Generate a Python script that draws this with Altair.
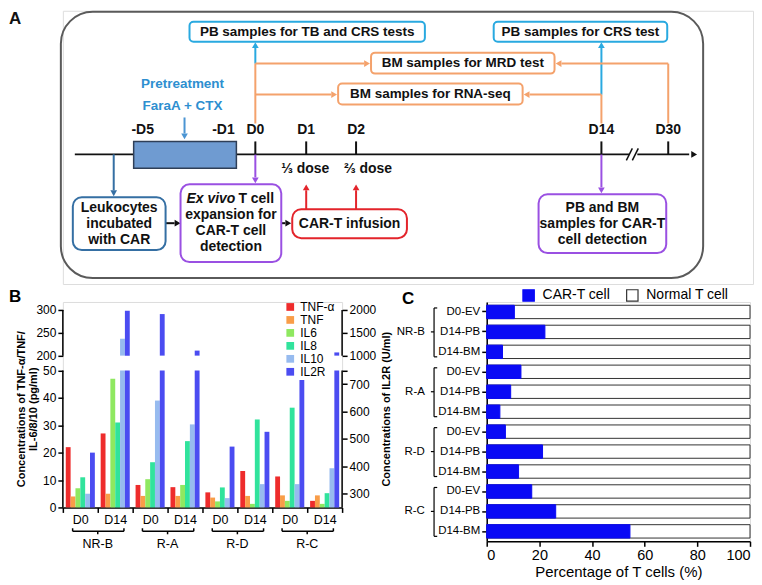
import altair as alt
import pandas as pd

FONT = "Liberation Sans, Arial, Helvetica, sans-serif"

# ======================= DATA =======================
# ---- Panel B: cytokine concentrations (pg/ml; IL2R in U/ml) ----
b_groups = ["NR-B", "R-A", "R-D", "R-C"]
b_days = ["D0", "D14"]
b_series = ["TNF-α", "TNF", "IL6", "IL8", "IL10", "IL2R"]
b_tnfa = [22, 27, 8.2, 7.4, 5.5, 13.3, 11.3, 2.4]
b_tnf = [4, 5, 4.2, 4.2, 3.6, 4.2, 4.4, 4.4]
b_il6 = [7, 47, 10.3, 8.2, 2.2, 1.3, 2.4, 1.3]
b_il8 = [11, 31, 16.5, 24.2, 7.3, 32.1, 36.4, 5.2]
b_il10 = [5, 237, 39, 30.3, 3.4, 8.5, 8.5, 14.3]
b_il2r = [450, 1980, 1910, 1110, 472, 526, 715, 1070]
b_left_ticks = [0, 10, 20, 30, 40, 50, 200, 250, 300]
b_right_ticks = [300, 400, 500, 600, 700, 750, 1000, 1500, 2000]
b_colors = ["#ee2c2c", "#f99d48", "#8fe860", "#31e39c", "#97bbef", "#4b4cf1"]

# ---- Panel C: percentage of CAR-T cells among T cells ----
c_patients = ["NR-B", "R-A", "R-D", "R-C"]
c_samples = ["D0-EV", "D14-PB", "D14-BM"]
c_cart = [10.5, 22.1, 6.0, 13.0, 9.1, 5.0, 7.1, 21.2, 12.1, 17.1, 26.2, 54.4]
c_types = ["CAR-T cell", "Normal T cell"]
c_ticks = [0, 20, 40, 60, 80, 100]

# ---- Panel A: schematic texts ----
a_top_box_texts = ["PB samples for TB and CRS tests", "PB samples for CRS test",
                   "BM samples for MRD test", "BM samples for RNA-seq"]
a_bottom_box_lines = [["Leukocytes", "incubated", "with CAR"],
                      ["", "expansion for", "CAR-T cell", "detection"],
                      ["CAR-T infusion"],
                      ["PB and BM", "samples for CAR-T", "cell detection"]]
a_day_labels = ["-D5", "-D1", "D0", "D1", "D2", "D14", "D30"]
a_pretreat = ["Pretreatment", "FaraA + CTX"]
a_doses = ["⅓ dose", "⅔ dose"]

# ======================= STYLE / LAYOUT =======================
CYAN, ORANGE, PURPLE, RED = "#29a9e0", "#f4a26c", "#9a50e2", "#e3242b"
DBLUE, PRE_TXT, PRE_ARROW, BLACK = "#356fa3", "#2e8fd0", "#4b95d3", "#111111"

# diagram layout (panel A coordinate units)
A_DAY_X = [142, 223, 255, 306, 356, 602, 669]
A_TOP_BOXES = [(189, 425, 19, 39, CYAN), (494, 668, 19, 39, CYAN),
               (371, 555, 50, 71, ORANGE), (338, 523, 81, 102, ORANGE)]
A_BOTTOM_BOXES = [(72, 165, 195, 248, DBLUE), (180, 281, 182, 260, PURPLE),
                  (292, 407, 207, 236, RED), (539, 667, 192, 251, PURPLE)]
A_LINES = [
    (74, 152, 690, 152, BLACK, 2), (184, 115, 184, 131, PRE_ARROW, 2),
    (113, 152, 113, 188, DBLUE, 2), (255, 121, 255, 61, ORANGE, 2),
    (255, 61, 255, 45, CYAN, 2), (255, 61, 364, 61, ORANGE, 2),
    (255, 92, 331, 92, ORANGE, 2), (602, 121, 602, 92, ORANGE, 2),
    (602, 92, 602, 45, CYAN, 2), (602, 92, 530, 92, ORANGE, 2),
    (669, 121, 669, 61, ORANGE, 2), (669, 61, 562, 61, ORANGE, 2),
    (255, 152, 255, 175, PURPLE, 2), (602, 152, 602, 185, PURPLE, 2),
    (306, 207, 306, 188, RED, 2), (356, 207, 356, 188, RED, 2),
    (165, 221, 174, 221, BLACK, 2), (281, 221, 285, 221, BLACK, 2),
    (255, 139, 255, 152, BLACK, 2), (306, 139, 306, 152, BLACK, 2),
    (356, 139, 356, 152, BLACK, 2), (602, 139, 602, 152, BLACK, 2),
    (669, 139, 669, 152, BLACK, 2),
    (630, 152, 638, 152, "#ffffff", 5),
    (627, 158, 633, 146, BLACK, 1.5), (633, 158, 639, 146, BLACK, 1.5),
]
A_HEADS = [
    (695, 152, "triangle-right", BLACK), (184, 134, "triangle-down", PRE_ARROW),
    (113, 191, "triangle-down", DBLUE), (255, 42.5, "triangle-up", CYAN),
    (367, 61, "triangle-right", ORANGE), (334, 92, "triangle-right", ORANGE),
    (602, 42.5, "triangle-up", CYAN), (527, 92, "triangle-left", ORANGE),
    (559, 61, "triangle-left", ORANGE), (255, 178, "triangle-down", PURPLE),
    (602, 188, "triangle-down", PURPLE), (306, 185, "triangle-up", RED),
    (356, 185, "triangle-up", RED), (177, 221, "triangle-right", BLACK),
    (288, 221, "triangle-right", BLACK),
]

# page geometry of the panels' plot areas
B_LEFT, B_W, B_AXIS_H = 62, 280, 198
ROW2_TOP = 303          # shared top of the plot areas of panels B and C
B_AXIS_TOP = 311        # where the 300 tick of panel B sits
A_X0, A_X1, A_Y0, A_Y1 = B_LEFT, 754, 8, 282

# ======================= PANEL A =======================
AX = alt.X("x:Q", scale=alt.Scale(domain=[A_X0, A_X1], nice=False, zero=False), axis=None)
AY = alt.Y("y:Q", scale=alt.Scale(domain=[A_Y0, A_Y1], nice=False, zero=False, reverse=True), axis=None)


def rects(df, **kw):
    return alt.Chart(df).mark_rect(**kw).encode(x=AX, x2="x2:Q", y=AY, y2="y2:Q")


frame = rects(pd.DataFrame([{"x": 60, "x2": 704, "y": 9, "y2": 276}]),
              fillOpacity=0, stroke="#5a5a5a", strokeWidth=2, cornerRadius=32)
pre_rect = rects(pd.DataFrame([{"x": 133, "x2": 236, "y": 139, "y2": 166}]),
                 fill="#6f9bd1", stroke="#2f3f57", strokeWidth=1.5)
lines_df = pd.DataFrame(A_LINES, columns=["x", "y", "x2", "y2", "c", "w"])
a_lines = alt.Chart(lines_df).mark_rule().encode(
    x=AX, y=AY, x2="x2:Q", y2="y2:Q",
    color=alt.Color("c:N", scale=None), strokeWidth=alt.StrokeWidth("w:Q", scale=None))
heads_df = pd.DataFrame(A_HEADS, columns=["x", "y", "s", "c"])
a_heads = alt.Chart(heads_df).mark_point(filled=True, size=45, opacity=1).encode(
    x=AX, y=AY, shape=alt.Shape("s:N", scale=None), color=alt.Color("c:N", scale=None))

tb_df = pd.DataFrame([{"x": b[0], "x2": b[1], "y": b[2], "y2": b[3], "c": b[4]} for b in A_TOP_BOXES])
top_boxes = alt.Chart(tb_df).mark_rect(fill="white", strokeWidth=2, cornerRadius=4).encode(
    x=AX, x2="x2:Q", y=AY, y2="y2:Q", stroke=alt.Stroke("c:N", scale=None))
bb_df = pd.DataFrame([{"x": b[0], "x2": b[1], "y": b[2], "y2": b[3], "c": b[4]} for b in A_BOTTOM_BOXES])
bottom_boxes = alt.Chart(bb_df).mark_rect(fill="white", strokeWidth=2, cornerRadius=9).encode(
    x=AX, x2="x2:Q", y=AY, y2="y2:Q", stroke=alt.Stroke("c:N", scale=None))

txt = []
for t, b in zip(a_top_box_texts, A_TOP_BOXES):
    txt.append({"x": (b[0] + b[1]) / 2, "y": (b[2] + b[3]) / 2, "t": t, "c": BLACK, "fs": 13.5})
LH = 16
for lines, b in zip(a_bottom_box_lines, A_BOTTOM_BOXES):
    n = len(lines)
    cyy = (b[2] + b[3]) / 2
    for i, ln in enumerate(lines):
        if ln:
            txt.append({"x": (b[0] + b[1]) / 2, "y": cyy + (i - (n - 1) / 2) * LH, "t": ln, "c": BLACK, "fs": 14})
for lab, x in zip(a_day_labels, A_DAY_X):
    txt.append({"x": x, "y": 128, "t": lab, "c": BLACK, "fs": 14})
for lab, y in zip(a_pretreat, [81, 104]):
    txt.append({"x": 182, "y": y, "t": lab, "c": PRE_TXT, "fs": 13.5})
for lab, x in zip(a_doses, [305, 368]):
    txt.append({"x": x, "y": 167, "t": lab, "c": BLACK, "fs": 14})
txt_df = pd.DataFrame(txt)
a_texts = alt.Chart(txt_df).mark_text(fontWeight="bold", baseline="middle", align="center").encode(
    x=AX, y=AY, text="t:N", color=alt.Color("c:N", scale=None), size=alt.Size("fs:Q", scale=None))

exvivo_y = (A_BOTTOM_BOXES[1][2] + A_BOTTOM_BOXES[1][3]) / 2 - 1.5 * LH
a_exvivo = alt.Chart(pd.DataFrame([{"x": 235, "y": exvivo_y, "t": "Ex vivo"}])).mark_text(
    fontWeight="bold", fontStyle="italic", fontSize=14, align="right", baseline="middle", color=BLACK
).encode(x=AX, y=AY, text="t:N")
a_tcell = alt.Chart(pd.DataFrame([{"x": 238, "y": exvivo_y, "t": "T cell"}])).mark_text(
    fontWeight="bold", fontSize=14, align="left", baseline="middle", color=BLACK
).encode(x=AX, y=AY, text="t:N")
a_letter = alt.Chart(pd.DataFrame([{"x": 8, "y": 8, "t": "A"}])).mark_text(
    fontWeight="bold", fontSize=17, align="left", baseline="top", color=BLACK
).encode(x=AX, y=AY, text="t:N")

panel_a = alt.layer(frame, a_lines, pre_rect, a_heads, top_boxes, bottom_boxes,
                    a_texts, a_exvivo, a_tcell, a_letter).properties(width=A_X1 - A_X0, height=A_Y1 - A_Y0)

# ======================= PANEL B =======================
LO_MAX, UP_MIN, GAP, UP_RATIO = 50.0, 200.0, 5.4, 6.0
D_GAP = LO_MAX + GAP
R_BASE, R_PER, R_UP_MIN, R_UP_PER = 250.0, 10.0, 1000.0, 60.0


def disp_left(v):
    return v if v <= LO_MAX else D_GAP + (v - UP_MIN) / UP_RATIO


def disp_right(r):
    return (r - R_BASE) / R_PER if r <= R_BASE + LO_MAX * R_PER else D_GAP + (r - R_UP_MIN) / R_UP_PER


TOP = disp_left(300)
PX_PER_UNIT = B_AXIS_H / TOP
B_H = B_AXIS_H + (B_AXIS_TOP - ROW2_TOP)
B_DOM_TOP = B_H / PX_PER_UNIT
B_OFF = B_AXIS_TOP - ROW2_TOP      # axis top below plot-area top

b_vals = dict(zip(b_series, [b_tnfa, b_tnf, b_il6, b_il8, b_il10, b_il2r]))
b_cells = [f"{g}|{d}" for g in b_groups for d in b_days]
b_rows = []
for i, cell in enumerate(b_cells):
    for s in b_series:
        b_rows.append({"cell": cell, "series": s, "value": b_vals[s][i]})
b_df = pd.DataFrame(b_rows)

disp_expr = (f"datum.series === 'IL2R' ? (datum.value <= {R_BASE + LO_MAX * R_PER} ? "
             f"(datum.value - {R_BASE}) / {R_PER} : {D_GAP} + (datum.value - {R_UP_MIN}) / {R_UP_PER}) : "
             f"(datum.value <= {LO_MAX} ? datum.value : {D_GAP} + (datum.value - {UP_MIN}) / {UP_RATIO})")
left_label_expr = (f"datum.value <= {LO_MAX + 0.01} ? format(datum.value, '.0f') : "
                   f"format({UP_MIN} + (datum.value - {D_GAP}) * {UP_RATIO}, '.0f')")
right_label_expr = (f"abs(datum.value - {LO_MAX}) < 0.01 ? '' : datum.value < {LO_MAX} ? "
                    f"format(datum.value * {R_PER} + {R_BASE}, '.0f') : "
                    f"format({R_UP_MIN} + (datum.value - {D_GAP}) * {R_UP_PER}, '.0f')")

bx = alt.X("cell:N", sort=b_cells, scale=alt.Scale(domain=b_cells, paddingInner=0, paddingOuter=0),
           axis=alt.Axis(title=None, labelExpr="split(datum.value, '|')[1]", labelAngle=0,
                         tickBand="extent", tickSize=5, tickWidth=1.5, domainWidth=1.5,
                         labelFontSize=12.5, labelPadding=1, domainColor="#000",
                         tickColor="#000", labelColor="#000"))
bxo = alt.XOffset("series:N", sort=b_series,
                  scale=alt.Scale(domain=b_series, paddingOuter=0.6, paddingInner=0))
by = alt.Y("top:Q", scale=alt.Scale(domain=[0, B_DOM_TOP], nice=False, zero=False),
           axis=alt.Axis(values=[disp_left(v) for v in b_left_ticks], labelExpr=left_label_expr,
                         domain=False, grid=False, tickSize=5, tickWidth=1.5, tickColor="#000",
                         labelFontSize=12, labelPadding=2, labelColor="#000",
                         title=["Concentrations of TNF-α/TNF/", "IL-6/8/10 (pg/ml)"],
                         titleFontSize=11, titleFontWeight="bold", titleColor="#000",
                         titleAngle=-90, titleX=-41, titleY=B_OFF + B_AXIS_H / 2, titleAlign="center",
                         titleBaseline="middle", titleLineHeight=12))
bcolor = alt.Color("series:N", sort=b_series, scale=alt.Scale(domain=b_series, range=b_colors),
                   legend=alt.Legend(title=None, orient="none", legendX=222, legendY=-1,
                                     direction="vertical", symbolType="square", symbolSize=60,
                                     symbolStrokeWidth=0, labelFontSize=12, labelOffset=4,
                                     rowPadding=1, padding=0, labelColor="#000"))

b_base = alt.Chart(b_df).transform_calculate(disp=disp_expr)
b_lower = b_base.transform_calculate(top=f"min(datum.disp, {LO_MAX})", bot="0").mark_bar().encode(
    x=bx, xOffset=bxo, y=by, y2="bot:Q", color=bcolor)
b_upper = b_base.transform_filter(f"datum.disp > {D_GAP}").transform_calculate(
    top="datum.disp", bot=str(D_GAP)).mark_bar().encode(
    x=bx, xOffset=bxo, y=by, y2="bot:Q", color=bcolor)

n_cells = len(b_cells)
dx = alt.X("x:Q", scale=alt.Scale(domain=[0, n_cells], nice=False, zero=False), axis=None)
dy = alt.Y("y:Q", scale=alt.Scale(domain=[0, B_DOM_TOP], nice=False, zero=False),
           axis=alt.Axis(orient="right", values=[disp_right(r) for r in b_right_ticks],
                         labelExpr=right_label_expr, domain=False, grid=False, tickSize=5,
                         tickWidth=1.5, tickColor="#000", labelFontSize=12, labelPadding=2,
                         labelColor="#000", title="Concentrations of IL2R (U/ml)", titleFontSize=11,
                         titleFontWeight="bold", titleColor="#000", titleAngle=-90, titleX=45,
                         titleY=B_OFF + B_AXIS_H / 2, titleAlign="center", titleBaseline="middle"))

BR_Y, BR_L, BR_R, HOOK, GL_Y = -8.7, 0.28, 1.75, 1.1, -13.2
seg = [(0, 0, 0, LO_MAX), (0, 0, D_GAP, TOP), (n_cells, n_cells, 0, LO_MAX), (n_cells, n_cells, D_GAP, TOP)]
glab = []
for k, g in enumerate(b_groups):
    c0 = 2 * k
    seg += [(c0 + BR_L, c0 + BR_R, BR_Y, BR_Y), (c0 + BR_L, c0 + BR_L, BR_Y, BR_Y + HOOK),
            (c0 + BR_R, c0 + BR_R, BR_Y, BR_Y + HOOK), (c0 + 1, c0 + 1, BR_Y, BR_Y - HOOK)]
    glab.append({"x": c0 + 1, "y": GL_Y, "t": g})
seg_df = pd.DataFrame(seg, columns=["x", "x2", "y", "y2"])
b_rules = alt.Chart(seg_df).mark_rule(color="#000", strokeWidth=1.5).encode(
    x=dx, x2="x2:Q", y=dy, y2="y2:Q")
b_glabels = alt.Chart(pd.DataFrame(glab)).mark_text(fontSize=12.5, baseline="middle", color="#000").encode(
    x=dx, y=dy, text="t:N")
b_letter = alt.Chart(pd.DataFrame({"t": ["B"]})).mark_text(
    fontSize=17, fontWeight="bold", align="left", baseline="top", color="#000").encode(
    x=alt.value(-54), y=alt.value(-13), text="t:N")

panel_b = alt.layer(alt.layer(b_lower, b_upper), alt.layer(b_rules, b_glabels, b_letter)).resolve_scale(
    x="independent", y="independent").properties(width=B_W, height=B_H)

# ======================= PANEL C =======================
C_W, C_H = 264, 240
c_rows = [f"{p}|{s}" for p in c_patients for s in c_samples]
c_rec = []
for i, r in enumerate(c_rows):
    c_rec.append({"row": r, "type": c_types[1], "start": 0, "end": 100})
for i, r in enumerate(c_rows):
    c_rec.append({"row": r, "type": c_types[0], "start": 0, "end": c_cart[i]})
c_df = pd.DataFrame(c_rec)

cx = alt.X("start:Q", scale=alt.Scale(domain=[0, 100], nice=False, zero=False),
           axis=alt.Axis(values=c_ticks, format=".0f", title="Percentage of T cells (%)", grid=False,
                         tickSize=5, tickWidth=1.5, domainWidth=1.5, labelFontSize=14.5, labelPadding=2,
                         titleFontSize=15, titleFontWeight="normal", titlePadding=3,
                         domainColor="#000", tickColor="#000", labelColor="#000", titleColor="#000"))
cy = alt.Y("row:N", sort=c_rows, scale=alt.Scale(domain=c_rows, paddingInner=0.33, paddingOuter=0.165),
           axis=alt.Axis(title=None, labelExpr="split(datum.value, '|')[1]", tickSize=5, tickWidth=1.5,
                         domainWidth=1.5, labelFontSize=11.5, labelPadding=2, domainColor="#000",
                         tickColor="#000", labelColor="#000"))
c_leg = alt.Legend(title=None, orient="none", legendX=35, legendY=-14, direction="horizontal",
                   symbolType="square", symbolSize=130, symbolStrokeWidth=1.2, labelFontSize=14,
                   labelOffset=7, columnPadding=13, padding=0, labelColor="#000")
c_bars = alt.Chart(c_df).mark_bar(strokeWidth=1).encode(
    x=cx, x2="end:Q", y=cy,
    color=alt.Color("type:N", scale=alt.Scale(domain=c_types, range=["#0a0af5", "#ffffff"]), legend=c_leg),
    stroke=alt.Stroke("type:N", scale=alt.Scale(domain=c_types, range=["#0a0af5", "#333333"]), legend=c_leg))

cdy = alt.Y("yy:Q", scale=alt.Scale(domain=[0, len(c_rows)], nice=False, zero=False, reverse=True), axis=None)
CB_X, CB_HOOK, CB_TOP, CB_BOT, CL_X = -20.0, 1.2, 0.3, 2.75, -23.5
cseg, clab = [], []
for k, p in enumerate(c_patients):
    r0 = 3 * k
    cseg += [(CB_X, CB_X, r0 + CB_TOP, r0 + CB_BOT), (CB_X, CB_X + CB_HOOK, r0 + CB_TOP, r0 + CB_TOP),
             (CB_X, CB_X + CB_HOOK, r0 + CB_BOT, r0 + CB_BOT), (CB_X - CB_HOOK, CB_X, r0 + 1.5, r0 + 1.5)]
    clab.append({"start": CL_X, "yy": r0 + 1.5, "t": p})
cseg_df = pd.DataFrame(cseg, columns=["start", "end", "yy", "yy2"])
c_rules = alt.Chart(cseg_df).mark_rule(color="#000", strokeWidth=1.2).encode(
    x=cx, x2="end:Q", y=cdy, y2="yy2:Q")
c_glabels = alt.Chart(pd.DataFrame(clab)).mark_text(fontSize=11.5, align="right", baseline="middle",
                                                     color="#000").encode(x=cx, y=cdy, text="t:N")
c_letter = alt.Chart(pd.DataFrame({"t": ["C"]})).mark_text(
    fontSize=17, fontWeight="bold", align="left", baseline="top", color="#000").encode(
    x=alt.value(-85), y=alt.value(-11), text="t:N")

panel_c = alt.layer(c_bars, alt.layer(c_rules, c_glabels, c_letter)).resolve_scale(
    y="independent").properties(width=C_W, height=C_H)

# ======================= ASSEMBLY =======================
row2 = alt.hconcat(panel_b, panel_c, spacing=3).resolve_scale(color="independent", stroke="independent")
chart = alt.vconcat(panel_a, row2, spacing=2).resolve_scale(
    color="independent", stroke="independent"
).properties(padding=0, background="white").configure_view(stroke=None).configure(font=FONT)

chart.save("out.html", embed_options={"renderer": "svg", "actions": False})
